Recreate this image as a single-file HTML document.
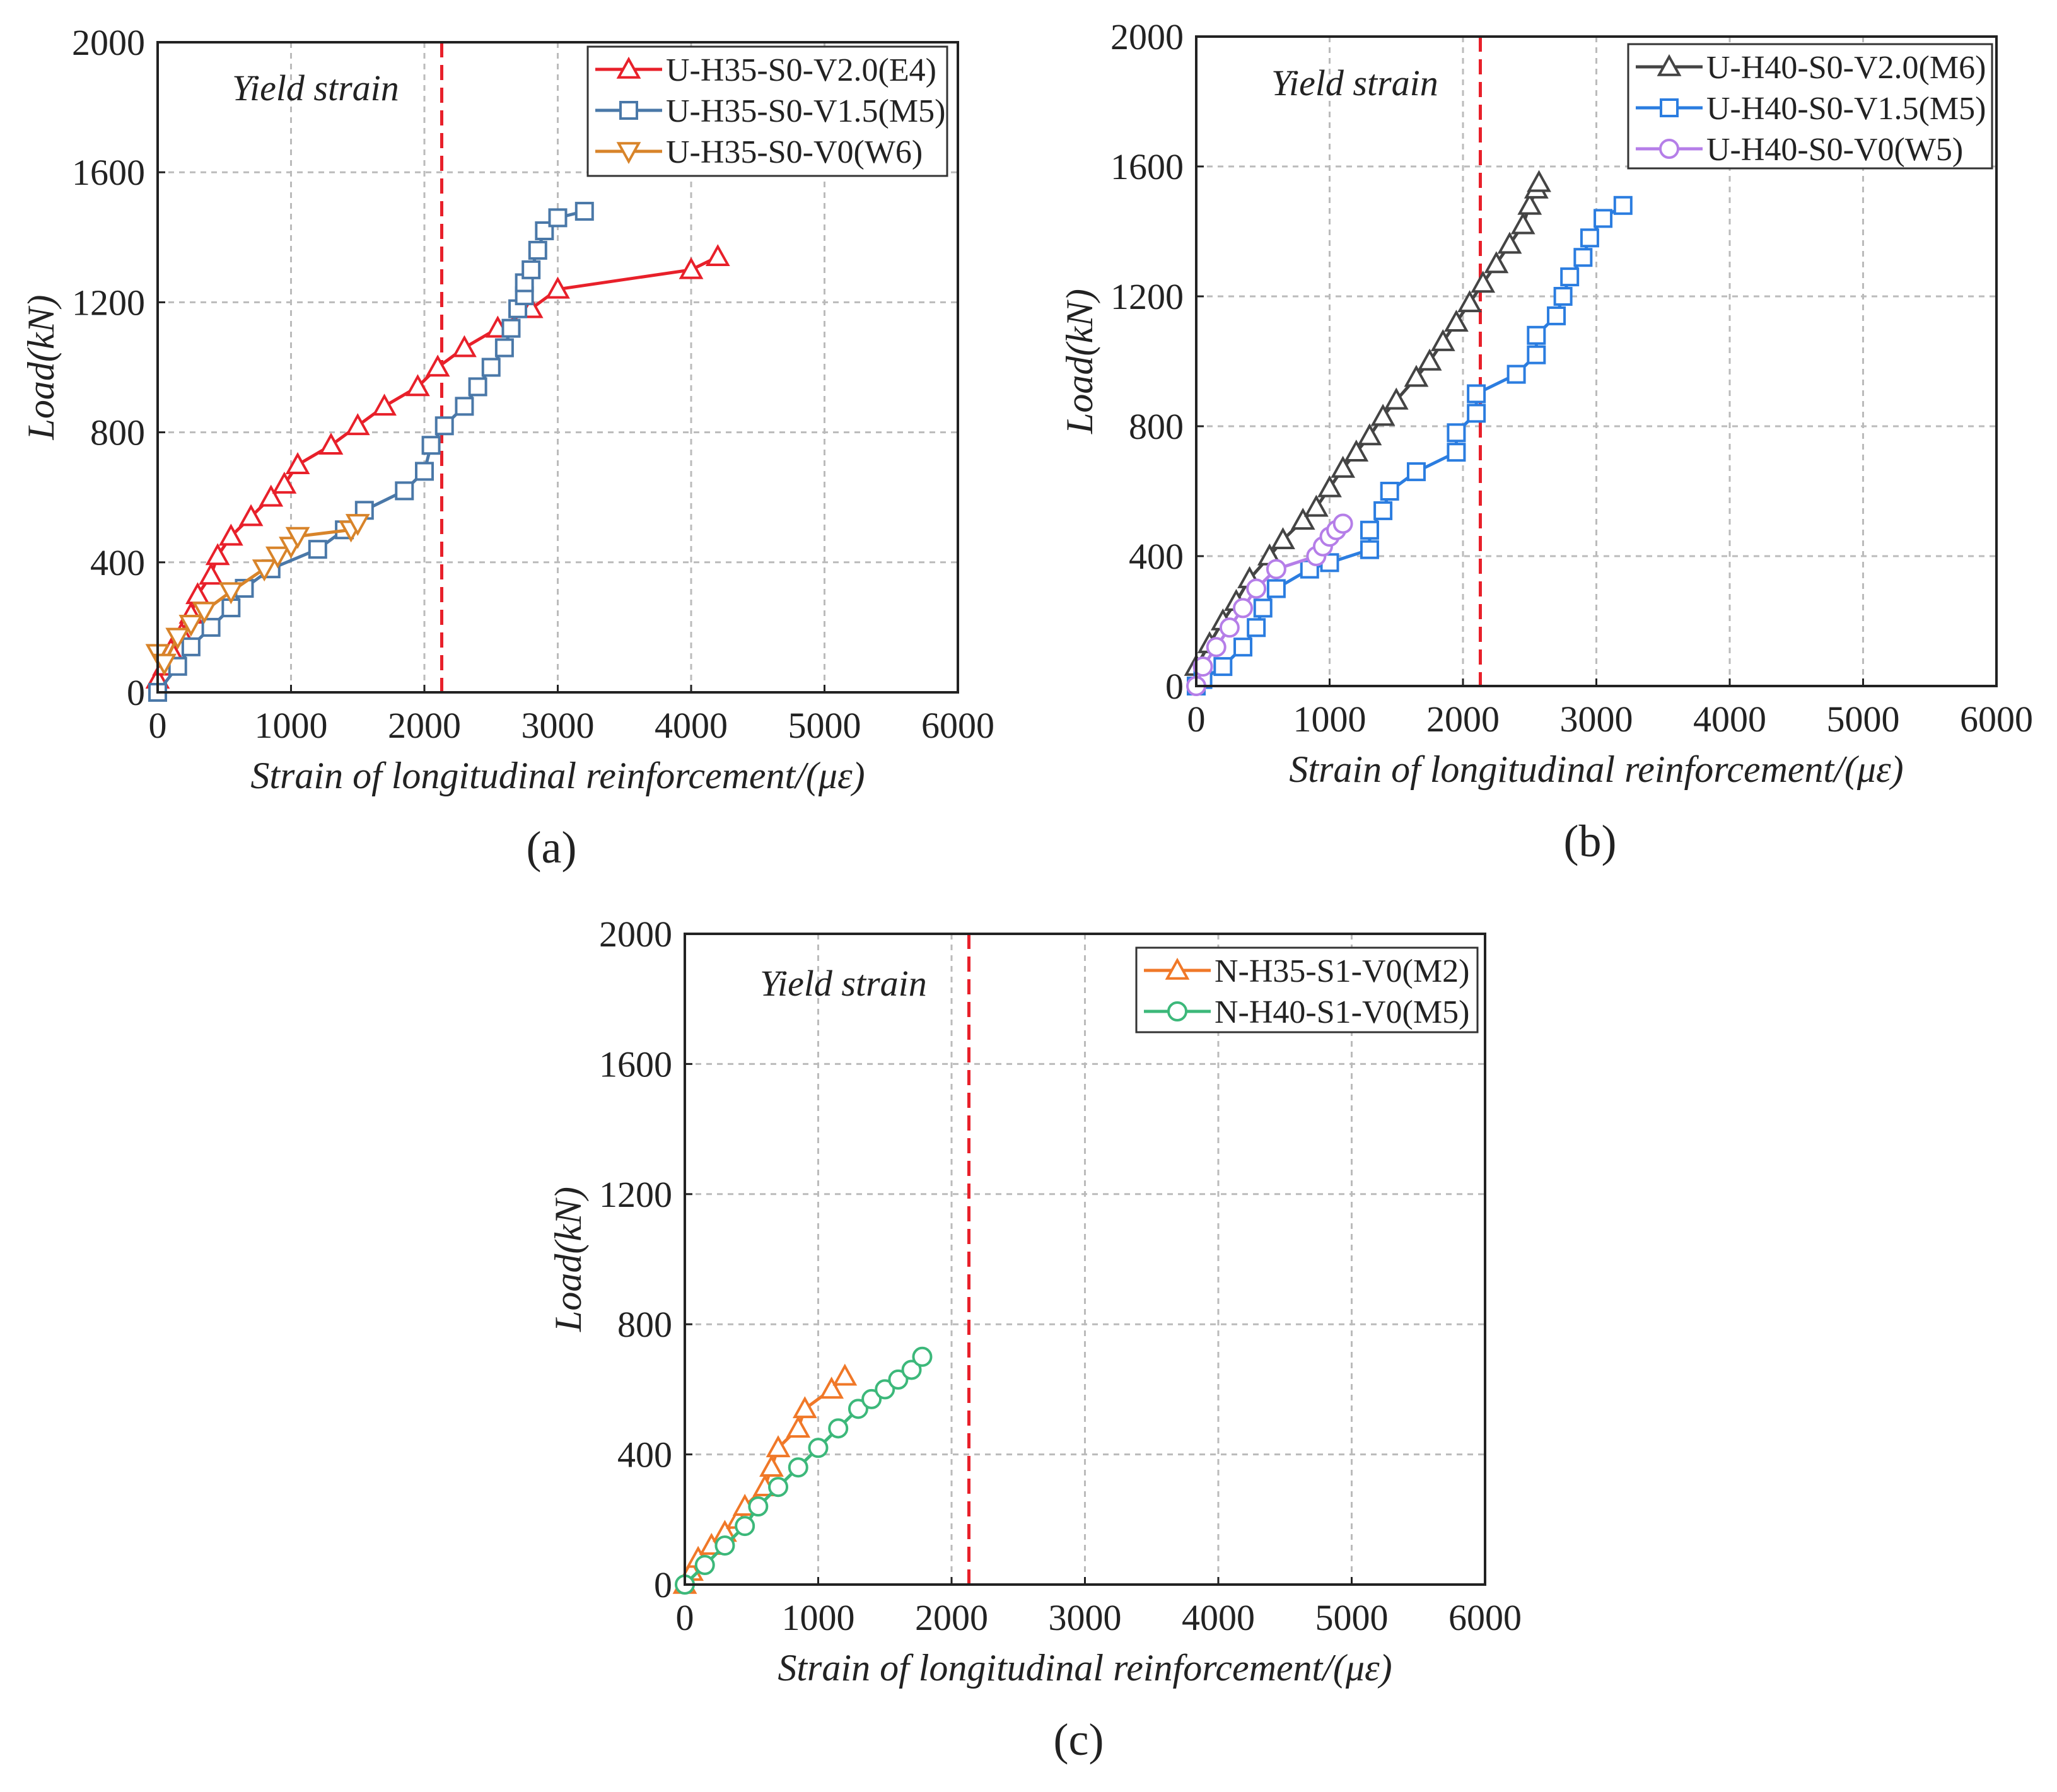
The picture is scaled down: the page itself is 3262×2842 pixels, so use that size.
<!DOCTYPE html>
<html><head><meta charset="utf-8"><style>
html,body{margin:0;padding:0;background:#fff;}
svg{display:block;}
text{font-family:"Liberation Serif",serif;fill:#222;}
</style></head><body>
<svg id="root" width="3262" height="2842" viewBox="0 0 3262 2842" xmlns="http://www.w3.org/2000/svg"></svg>
<script>
// ---- data ----
const xTicks=[0,1000,2000,3000,4000,5000,6000];
const yTicks=[0,400,800,1200,1600,2000];
const yieldStrain=2130;
// panel a
const aE4x=[0,50,100,180,250,300,400,450,550,700,850,950,1050,1300,1500,1700,1950,2100,2300,2550,2800,3000,4000,4200];
const aE4y=[40,80,130,180,240,300,360,420,480,540,600,640,700,760,820,880,940,1000,1060,1120,1180,1240,1300,1340];
const aM5x=[0,150,250,400,550,650,850,1200,1400,1550,1850,2000,2050,2150,2300,2400,2500,2600,2650,2700,2750,2750,2800,2850,2900,3000,3200];
const aM5y=[0,80,140,200,260,320,380,440,500,560,620,680,760,820,880,940,1000,1060,1120,1180,1220,1260,1300,1360,1420,1460,1480];
const aW6x=[0,50,150,250,350,550,800,900,1000,1050,1450,1500];
const aW6y=[120,90,170,210,250,310,380,420,450,480,500,520];
// panel b
const bM6x=[0,100,200,300,400,550,650,800,900,1000,1100,1200,1300,1400,1500,1650,1750,1850,1950,2050,2150,2250,2350,2450,2500,2550,2570];
const bM6y=[60,130,200,260,330,400,450,510,550,610,670,720,770,830,880,950,1000,1060,1120,1180,1240,1300,1360,1420,1480,1530,1550];
const bM5x=[0,50,200,350,450,500,600,850,1000,1300,1300,1400,1450,1650,1950,1950,2100,2100,2400,2550,2550,2700,2750,2800,2900,2950,3050,3200];
const bM5y=[0,20,60,120,180,240,300,360,380,420,480,540,600,660,720,780,840,900,960,1020,1080,1140,1200,1260,1320,1380,1440,1480];
const bW5x=[0,50,150,250,350,450,600,900,950,1000,1050,1100];
const bW5y=[0,60,120,180,240,300,360,400,430,460,480,500];
// panel c
const cM2x=[0,50,100,200,300,400,450,600,650,700,850,900,1100,1200];
const cM2y=[0,40,80,120,160,200,240,300,360,420,480,540,600,640];
const cM5x=[0,150,300,450,550,700,850,1000,1150,1300,1400,1500,1600,1700,1780];
const cM5y=[0,60,120,180,240,300,360,420,480,540,570,600,630,660,700];

const NS="http://www.w3.org/2000/svg";
const root=document.getElementById('root');
function el(tag,attrs,parent){const e=document.createElementNS(NS,tag);for(const k in attrs)e.setAttribute(k,attrs[k]);(parent||root).appendChild(e);return e;}

function marker(g,type,cx,cy,color){
  const s=16;let m;
  if(type==='tri'){m=el('polygon',{points:`${cx},${cy-s} ${cx-s},${cy+s*0.8} ${cx+s},${cy+s*0.8}`,fill:'#fff',stroke:color,'stroke-width':4},g);}
  else if(type==='dtri'){m=el('polygon',{points:`${cx},${cy+s} ${cx-s},${cy-s*0.8} ${cx+s},${cy-s*0.8}`,fill:'#fff',stroke:color,'stroke-width':4},g);}
  else if(type==='sq'){m=el('rect',{x:cx-13,y:cy-13,width:26,height:26,fill:'#fff',stroke:color,'stroke-width':4},g);}
  else {m=el('circle',{cx:cx,cy:cy,r:14,fill:'#fff',stroke:color,'stroke-width':4},g);}
  
  
}

function panel(P){
  const g=el('g',{});
  
  
  const W=P.r-P.l,H=P.b-P.t;
  const X=v=>P.l+v/6000*W, Y=v=>P.b-v/2000*H;
  xTicks.forEach(t=>{if(t>0&&t<6000){const l=el('line',{x1:X(t),x2:X(t),y1:P.t,y2:P.b,stroke:'#bbb','stroke-width':3,'stroke-dasharray':'9,8'},g);}});
  yTicks.forEach(t=>{if(t>0&&t<2000){const l=el('line',{x1:P.l,x2:P.r,y1:Y(t),y2:Y(t),stroke:'#bbb','stroke-width':3,'stroke-dasharray':'9,8'},g);}});
  const yl=el('line',{x1:X(yieldStrain),x2:X(yieldStrain),y1:P.t,y2:P.b,stroke:'#e8202a','stroke-width':5,'stroke-dasharray':'24,12'},g);
  
  const yt=el('text',{x:P.yx,y:P.yy,'font-size':58,'font-style':'italic'},g);yt.textContent='Yield strain';
  
  P.series.forEach(s=>{
    const sg=el('g',{},g);
    
    
    const pts=s.x.map((v,i)=>X(v)+','+Y(s.y[i])).join(' ');
    el('polyline',{points:pts,fill:'none',stroke:s.color,'stroke-width':5,'stroke-linejoin':'round'},sg);
    s.x.forEach((v,i)=>marker(sg,s.m,X(v),Y(s.y[i]),s.color));
  });
  const fr=el('rect',{x:P.l,y:P.t,width:W,height:H,fill:'none',stroke:'#222','stroke-width':4},g);
  
  xTicks.forEach(t=>{el('line',{x1:X(t),x2:X(t),y1:P.b,y2:P.b-12,stroke:'#222','stroke-width':3},g);
    const tx=el('text',{x:X(t),y:P.b+72,'font-size':58,'text-anchor':'middle'},g);tx.textContent=t;
    });
  yTicks.forEach(t=>{el('line',{x1:P.l,x2:P.l+12,y1:Y(t),y2:Y(t),stroke:'#222','stroke-width':3},g);
    const tx=el('text',{x:P.l-20,y:Y(t)+20,'font-size':58,'text-anchor':'end'},g);tx.textContent=t;
    });
  const xt=el('text',{x:(P.l+P.r)/2,y:P.b+152,'font-size':60,'font-style':'italic','text-anchor':'middle'},g);
  xt.textContent='Strain of longitudinal reinforcement/(με)';
  
  const cy=(P.t+P.b)/2;
  const ytt=el('text',{x:P.l-165,y:cy,'font-size':60,'font-style':'italic','text-anchor':'middle',transform:`rotate(-90 ${P.l-165} ${cy})`},g);
  ytt.textContent='Load(kN)';
  
  const lg=el('g',{},g);
  el('rect',{x:P.lg[0],y:P.lg[1],width:P.lg[2],height:P.lg[3],fill:'#fff',stroke:'#333','stroke-width':3},lg);
  P.series.forEach((s,i)=>{
    const ey=P.lg[1]+36+i*65;
    const eg=el('g',{},lg);
    el('line',{x1:P.lg[0]+12,x2:P.lg[0]+118,y1:ey,y2:ey,stroke:s.color,'stroke-width':5},eg);
    marker(eg,s.m,P.lg[0]+65,ey,s.color);
    const lt=el('text',{x:P.lg[0]+124,y:ey+18,'font-size':52},eg);lt.textContent=s.name;
  });
  const cap=el('text',{x:(P.l+P.r)/2-10,y:P.b+270,'font-size':72,'text-anchor':'middle'},g);
  cap.textContent='('+P.id+')';
}

panel({id:'a',l:250,r:1519,t:67,b:1098,yx:368,yy:159,lg:[932,74,570,205],series:[
 {name:'U-H35-S0-V2.0(E4)',x:aE4x,y:aE4y,color:'#e8202a',m:'tri'},
 {name:'U-H35-S0-V1.5(M5)',x:aM5x,y:aM5y,color:'#4a78a8',m:'sq'},
 {name:'U-H35-S0-V0(W6)',x:aW6x,y:aW6y,color:'#d8842a',m:'dtri'}]});
panel({id:'b',l:1897,r:3166,t:58,b:1088,yx:2016,yy:151,lg:[2582,70,577,197],series:[
 {name:'U-H40-S0-V2.0(M6)',x:bM6x,y:bM6y,color:'#444',m:'tri'},
 {name:'U-H40-S0-V1.5(M5)',x:bM5x,y:bM5y,color:'#2b7de0',m:'sq'},
 {name:'U-H40-S0-V0(W5)',x:bW5x,y:bW5y,color:'#b57ee8',m:'circ'}]});
panel({id:'c',l:1086,r:2355,t:1481,b:2513,yx:1205,yy:1579,lg:[1802,1503,541,134],series:[
 {name:'N-H35-S1-V0(M2)',x:cM2x,y:cM2y,color:'#f07828',m:'tri'},
 {name:'N-H40-S1-V0(M5)',x:cM5x,y:cM5y,color:'#3cb87a',m:'circ'}]});
</script>
</body></html>
